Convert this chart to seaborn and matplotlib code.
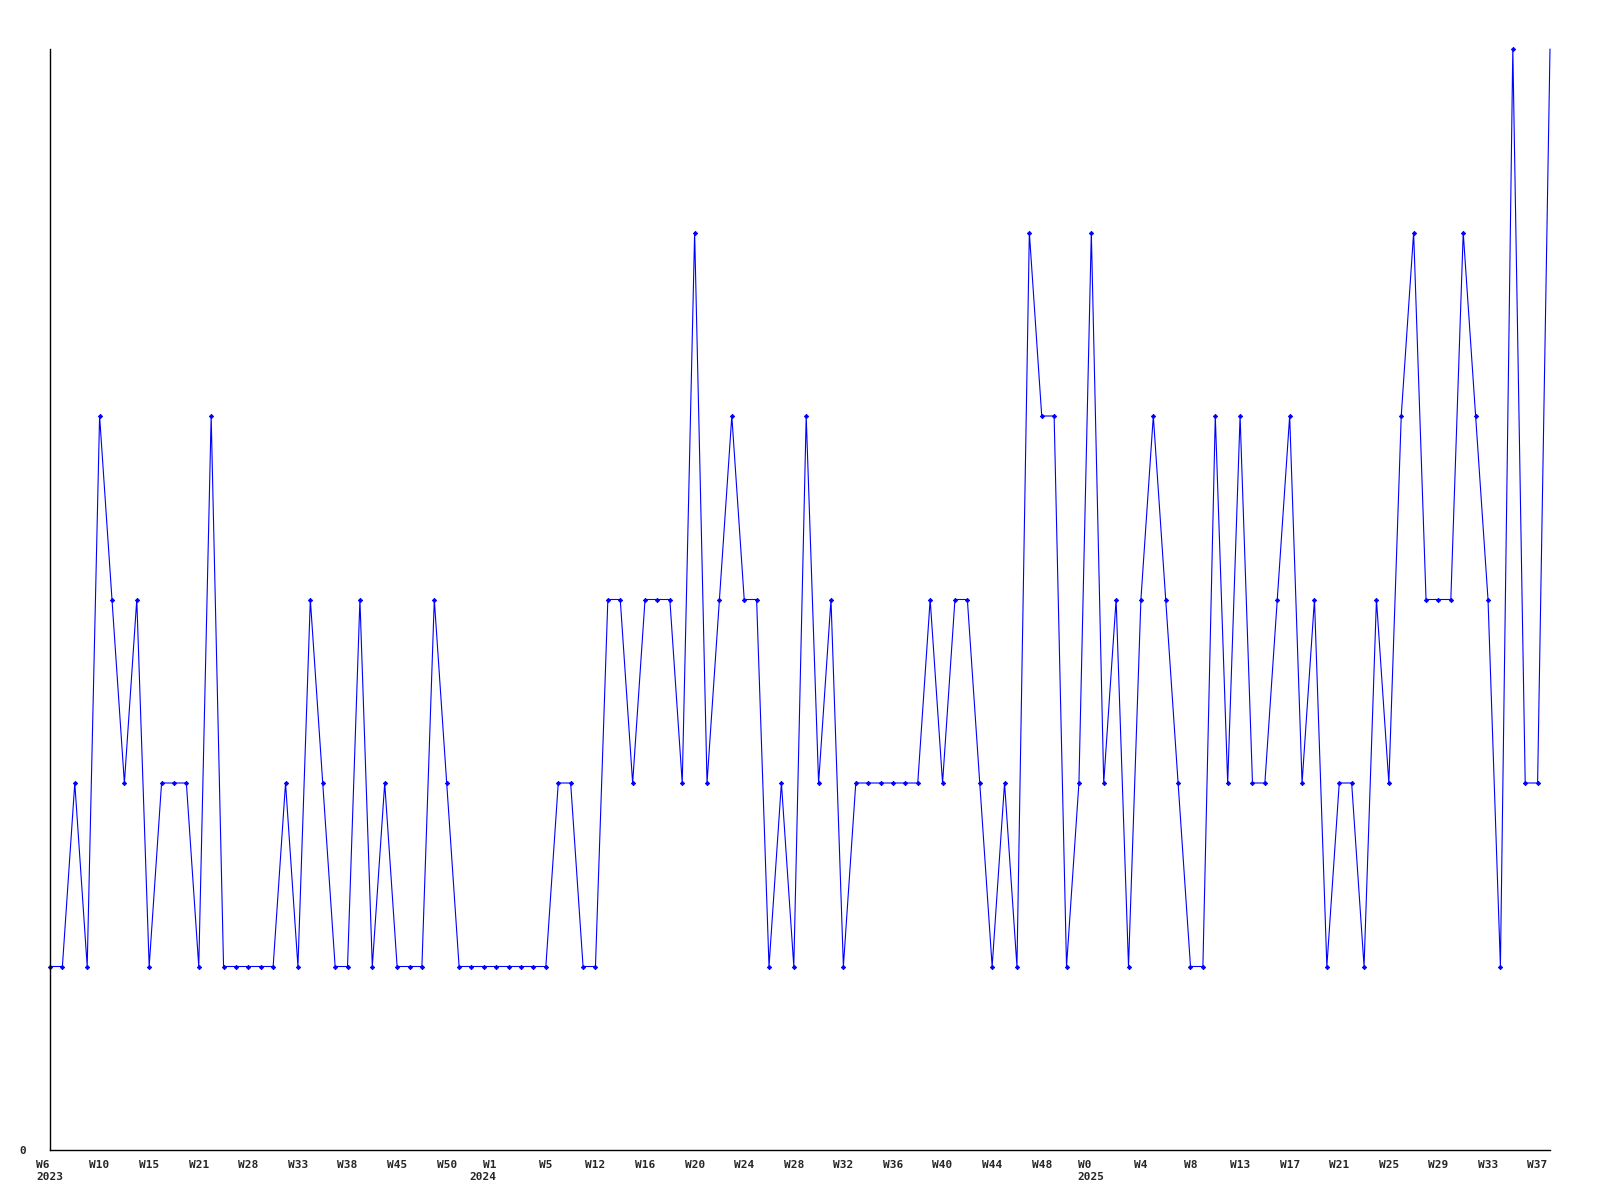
import numpy as np
import pandas as pd
import matplotlib
matplotlib.use("Agg")
import matplotlib.pyplot as plt
import seaborn as sns

# one value per data point
values = [1, 1, 2, 1, 4, 3, 2, 3, 1, 2,
          2, 2, 1, 4, 1, 1, 1, 1, 1, 2,
          1, 3, 2, 1, 1, 3, 1, 2, 1, 1,
          1, 3, 2, 1, 1, 1, 1, 1, 1, 1,
          1, 2, 2, 1, 1, 3, 3, 2, 3, 3,
          3, 2, 5, 2, 3, 4, 3, 3, 1, 2,
          1, 4, 2, 3, 1, 2, 2, 2, 2, 2,
          2, 3, 2, 3, 3, 2, 1, 2, 1, 5,
          4, 4, 1, 2, 5, 2, 3, 1, 3, 4,
          3, 2, 1, 1, 4, 2, 4, 2, 2, 3,
          4, 2, 3, 1, 2, 2, 1, 3, 2, 4,
          5, 3, 3, 3, 5, 4, 3, 1, 6, 2,
          2, 6]

# every 4th point gets a label
week_labels = ["W6", "W10", "W15", "W21", "W28", "W33", "W38", "W45", "W50",
               "W1", "W5", "W12", "W16", "W20", "W24", "W28", "W32", "W36",
               "W40", "W44", "W48", "W0", "W4", "W8", "W13", "W17", "W21",
               "W25", "W29", "W33", "W37"]
year_labels = {0: "2023", 36: "2024", 84: "2025"}

df = pd.DataFrame({"idx": np.arange(len(values)), "count": values})

sns.set_style("white")
plt.rcParams["font.family"] = ["DejaVu Sans Mono"]

fig = plt.figure(figsize=(16, 12), dpi=100)
ax = fig.add_axes([50 / 1600, 1 - 1150 / 1200, 1500 / 1600, 1101 / 1200])

sns.lineplot(data=df, x="idx", y="count", ax=ax, color="#0000ff", linewidth=0.8,
             marker="D", markersize=2.2, markeredgewidth=0.6, markeredgecolor="#0000ff",
             markevery=list(range(len(values) - 1)), clip_on=False)

ax.set_xlim(0, len(values) - 1)
ax.set_ylim(0, 6)

tick_pos = list(range(0, len(values), 4))
labels = []
for p, w in zip(tick_pos, week_labels):
    labels.append(w + "\n" + year_labels[p] if p in year_labels else w)
ax.set_xticks(tick_pos)
ax.set_xticklabels(labels, fontsize=8, fontweight="bold", linespacing=1.3)
ax.set_yticks([0])
ax.set_yticklabels(["0"], fontsize=8, fontweight="bold")
ax.tick_params(axis="x", length=0, pad=7)
ax.tick_params(axis="y", length=0, pad=17)
for p, t in zip(tick_pos, ax.get_xticklabels()):
    t.set_verticalalignment("top")
    if p == 36:
        t.set_multialignment("right")
        t.set_horizontalalignment("right")
        t.set_x(p)
    elif p in year_labels:
        t.set_multialignment("left")

ax.set_xlabel("")
ax.set_ylabel("")
for s in ["top", "right"]:
    ax.spines[s].set_visible(False)
for s in ["left", "bottom"]:
    ax.spines[s].set_color("black")
    ax.spines[s].set_linewidth(1)

fig.savefig("out.png", dpi=100)
